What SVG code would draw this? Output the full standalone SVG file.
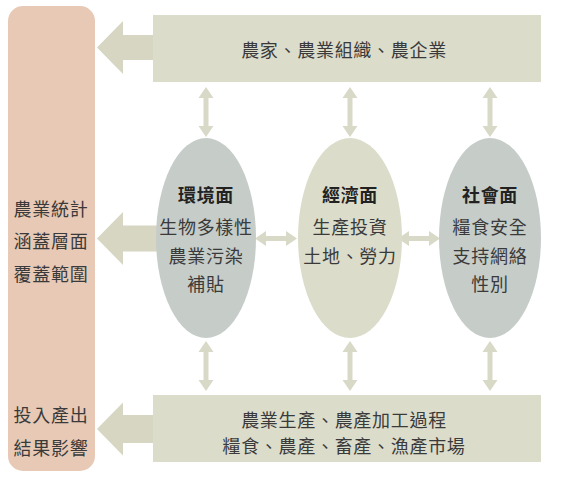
<svg xmlns="http://www.w3.org/2000/svg" width="566" height="480" viewBox="0 0 566 480">
<style>
.t{font-family:"Noto Sans CJK TC","Noto Sans CJK SC",sans-serif;font-size:18px;fill:#3a3a3a;text-anchor:middle;letter-spacing:0.7px;dominant-baseline:central}
.b{font-weight:bold;fill:#222}
.big{fill:#d6d6c3}
.dbl{fill:#d9d9c7}
.box{fill:#dcdccb}
.gray{fill:#c6ccc8}
.khaki{fill:#dcdccb}
</style>
<defs>
<path id="vd" d="M0,0 L7.5,11 L2.5,11 L2.5,39 L7.5,39 L0,50 L-7.5,39 L-2.5,39 L-2.5,11 L-7.5,11 Z"/>
<path id="hd" d="M0,0 L11,-7.5 L11,-2.5 L31,-2.5 L31,-7.5 L42,0 L31,7.5 L31,2.5 L11,2.5 L11,7.5 Z"/>
</defs>
<rect width="566" height="480" fill="#ffffff"/>
<g id="left-panel">
<rect x="8" y="6" width="87" height="465" rx="15" fill="#e7c9b6"/>
<text class="t" x="51" y="208">農業統計</text>
<text class="t" x="51" y="240">涵蓋層面</text>
<text class="t" x="51" y="273">覆蓋範圍</text>
<text class="t" x="51" y="414">投入產出</text>
<text class="t" x="51" y="447">結果影響</text>
</g>
<g id="connectors">
<path class="big" d="M97,47.5 L123,21 L123,35 L153,35 L153,60 L123,60 L123,74 Z"/>
<path class="big" d="M97,238.5 L123,212 L123,225.5 L165,225.5 L165,251.5 L123,251.5 L123,265 Z"/>
<path class="big" d="M97,429 L123,402.5 L123,415 L153,415 L153,443 L123,443 L123,455.5 Z"/>
<use href="#vd" class="dbl" x="206" y="87"/>
<use href="#vd" class="dbl" x="350" y="87"/>
<use href="#vd" class="dbl" x="490" y="87"/>
<use href="#vd" class="dbl" x="206" y="341"/>
<use href="#vd" class="dbl" x="350" y="341"/>
<use href="#vd" class="dbl" x="490" y="341"/>
<use href="#hd" class="dbl" x="255" y="238.5"/>
<use href="#hd" class="dbl" x="398" y="238.5"/>
</g>
<g id="top-box">
<rect class="box" x="153" y="15" width="388" height="67"/>
<text class="t" x="344" y="48.5">農家、農業組織、農企業</text>
</g>
<g id="bottom-box">
<rect class="box" x="153" y="395" width="388" height="67"/>
<text class="t" x="344" y="419">農業生產、農產加工過程</text>
<text class="t" x="344" y="445">糧食、農產、畜產、漁產市場</text>
</g>
<g id="environment">
<ellipse class="gray" cx="206" cy="238" rx="50" ry="100"/>
<text class="t b" x="206" y="194">環境面</text>
<text class="t" x="206" y="226">生物多樣性</text>
<text class="t" x="206" y="255">農業污染</text>
<text class="t" x="206" y="283">補貼</text>
</g>
<g id="economy">
<ellipse class="khaki" cx="350" cy="238" rx="52" ry="100"/>
<text class="t b" x="350" y="194">經濟面</text>
<text class="t" x="350" y="226">生產投資</text>
<text class="t" x="350" y="255">土地、勞力</text>
</g>
<g id="society">
<ellipse class="gray" cx="490" cy="238" rx="51" ry="100"/>
<text class="t b" x="490" y="194">社會面</text>
<text class="t" x="490" y="226">糧食安全</text>
<text class="t" x="490" y="255">支持網絡</text>
<text class="t" x="490" y="283">性別</text>
</g>
</svg>
